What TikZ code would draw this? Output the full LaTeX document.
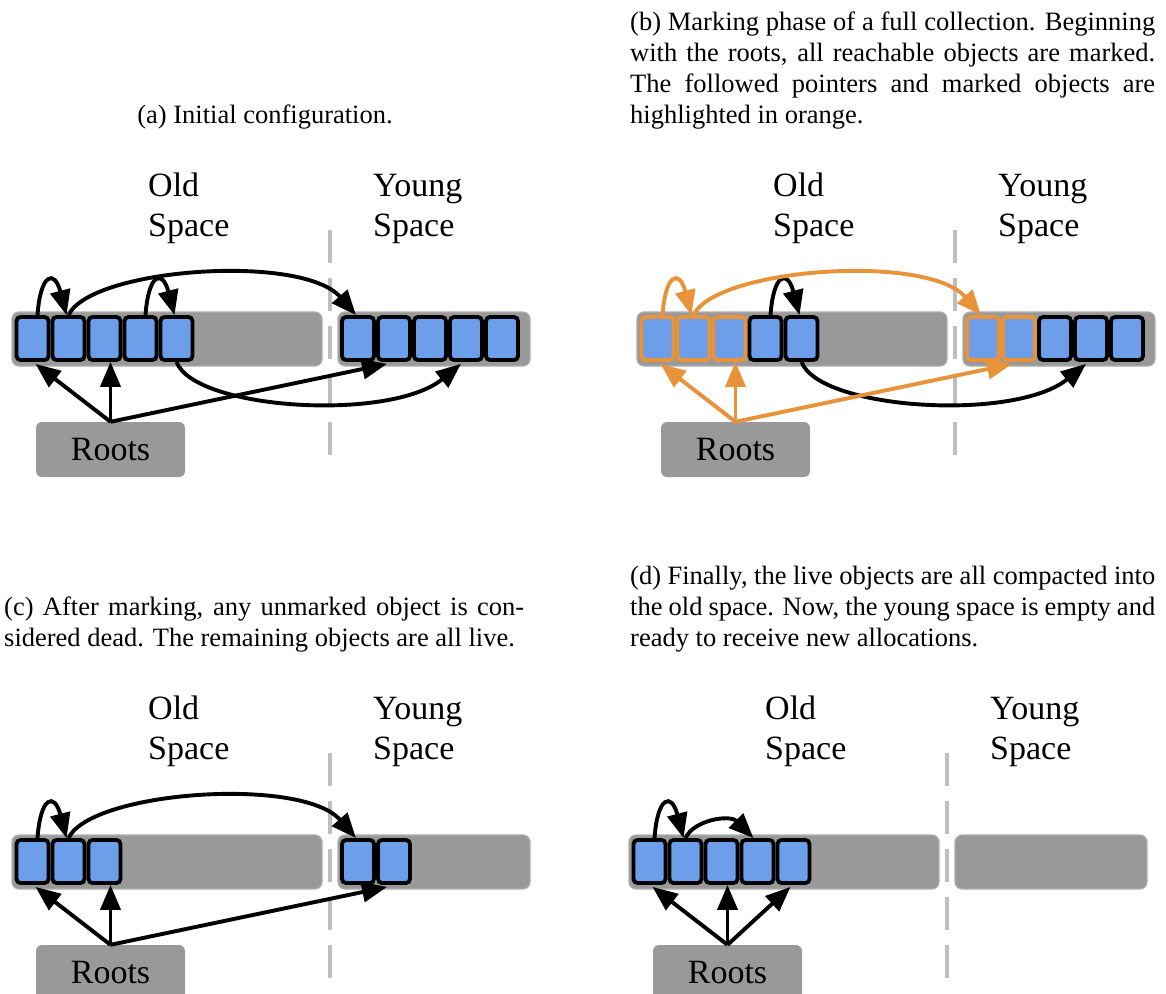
\documentclass[tikz,border=0pt]{standalone}
\usepackage{fontspec}
\setmainfont{Liberation Serif}
\newfontfamily\figserif{Liberation Serif}
\usetikzlibrary{arrows.meta,calc}

\definecolor{objblue}{RGB}{108,158,233}
\definecolor{spacegray}{RGB}{153,153,153}
\definecolor{dashgray}{RGB}{190,190,190}
\definecolor{markorange}{RGB}{232,146,58}

\tikzset{
  spacebar/.style={fill=spacegray, draw=spacegray!80!white, line width=1.2pt,
    rounded corners=7pt, inner sep=0pt},
  cell/.style={draw=black, fill=objblue, line width=3.8pt, rounded corners=4pt,
    minimum width=32pt, minimum height=43pt, inner sep=0pt},
  mcell/.style={cell, draw=markorange},
  ptr/.style={line width=3.9pt, -{Triangle[length=25pt,width=20pt]}},
  mptr/.style={ptr, draw=markorange, color=markorange},
  divider/.style={draw=dashgray, line width=3.5pt, dash pattern=on 33pt off 15pt},
  lbl/.style={font=\figserif\fontsize{34}{41}\selectfont, inner sep=0pt, anchor=base west},
  captext/.style={font=\figserif\fontsize{26.5}{31}\selectfont, inner sep=0pt, anchor=base west},
  rootbox/.style={fill=spacegray, rounded corners=6pt, minimum width=149pt,
    minimum height=55pt, inner sep=0pt, font=\figserif\fontsize{34}{41}\selectfont},
}

% labels, the two spaces, the divider and the root set of one panel
\newcommand\gcframe[1]{%
  \node[lbl] (#1lo1) at (148,196) {Old};
  \node[lbl] (#1lo2) at (148,236) {Space};
  \node[lbl] (#1ly1) at (373,196) {Young};
  \node[lbl] (#1ly2) at (373,236) {Space};
  \coordinate (#1dtop) at (330,230);
  \coordinate (#1dbot) at (330,456);
  \draw[divider] (#1dtop) -- (#1dbot);
  \node[spacebar, minimum width=310pt, minimum height=54pt] (#1old) at (167,339) {};
  \node[spacebar, minimum width=192pt, minimum height=54pt] (#1young) at (434,339) {};
  \node[rootbox] (#1roots) at (110.5,449.5) {Roots};
}
% object #2 of the old space / young space of panel #1, style #3
\newcommand\oldobj[3]{\node[#3] (#1c#2) at ({32.5+36*(#2-1)},338.5) {};}
\newcommand\youngobj[3]{\node[#3] (#1y#2) at ({358+36*(#2-1)},338.5) {};}

% pointer shapes
\newcommand\shortloop[3]{% #1 style, from #2 to #3 (neighbours)
  \draw[#1] ($(#2.north)+(5,0)$) .. controls ($(#2.north)+(8,-42)$)
    and ($(#3.north)+(-14,-46)$) .. ($(#3.north)+(-2,0)$);}
\newcommand\farjump[3]{% #1 style, old object #2 to young object #3
  \draw[#1] (#2.north) .. controls ($(#2.north)+(22,-47)$)
    and ($(#3.north)+(-56,-62)$) .. ($(#3.north)+(-2,0)$);}
\newcommand\underjump[3]{% #1 style, old object #2 to young object #3, below
  \draw[#1] (#2.south) .. controls ($(#2.south)+(18,48)$)
    and ($(#3.south)+(-76,60)$) .. ($(#3.south)+(-5,2)$);}

\begin{document}
\begin{tikzpicture}[x=1pt, y=-1pt]
\useasboundingbox (0,0) rectangle (1166,993);

% ---------------- captions ----------------
\node[captext, anchor=base] (capa) at (265,123) {(a) Initial configuration.};

\node[captext] (capb1) at (630,30) {\makebox[525pt][s]{(b) Marking phase of a full collection. Beginning}};
\node[captext] (capb2) at (630,61) {\makebox[525pt][s]{with the roots, all reachable objects are marked.}};
\node[captext] (capb3) at (630,92) {\makebox[525pt][s]{The followed pointers and marked objects are}};
\node[captext] (capb4) at (630,123) {highlighted in orange.};

\node[captext] (capc1) at (4,615) {\makebox[520pt][s]{(c) After marking, any unmarked object is con-}};
\node[captext] (capc2) at (4,646) {sidered dead. The remaining objects are all live.};

\node[captext] (capd1) at (630,584) {\makebox[525pt][s]{(d) Finally, the live objects are all compacted into}};
\node[captext] (capd2) at (630,615) {\makebox[525pt][s]{the old space. Now, the young space is empty and}};
\node[captext] (capd3) at (630,646) {ready to receive new allocations.};

% ---------------- (a) initial configuration ----------------
\begin{scope}
  \gcframe{a}
  \foreach \i in {1,...,5} {\oldobj{a}{\i}{cell}}
  \foreach \i in {1,...,5} {\youngobj{a}{\i}{cell}}
  \shortloop{ptr}{ac1}{ac2}
  \shortloop{ptr}{ac4}{ac5}
  \farjump{ptr}{ac2}{ay1}
  \underjump{ptr}{ac5}{ay4}
  \draw[ptr] (aroots.north) -- ($(ac1.south)+(3,2)$);
  \draw[ptr] (aroots.north) -- (aroots.north |- ac3.south);
  \draw[ptr] (aroots.north) -- ($(ay2.south)+(-7,2)$);
\end{scope}

% ---------------- (b) marking ----------------
\begin{scope}[shift={(625,0)}]
  \gcframe{b}
  \foreach \i in {1,2,3} {\oldobj{b}{\i}{mcell}}
  \foreach \i in {4,5} {\oldobj{b}{\i}{cell}}
  \foreach \i in {1,2} {\youngobj{b}{\i}{mcell}}
  \foreach \i in {3,4,5} {\youngobj{b}{\i}{cell}}
  \shortloop{ptr}{bc4}{bc5}
  \underjump{ptr}{bc5}{by4}
  \shortloop{mptr}{bc1}{bc2}
  \farjump{mptr}{bc2}{by1}
  \draw[mptr] (broots.north) -- ($(bc1.south)+(3,2)$);
  \draw[mptr] (broots.north) -- (broots.north |- bc3.south);
  \draw[mptr] (broots.north) -- ($(by2.south)+(-7,2)$);
\end{scope}

% ---------------- (c) dead objects removed ----------------
\begin{scope}[shift={(0,523)}]
  \gcframe{c}
  \foreach \i in {1,2,3} {\oldobj{c}{\i}{cell}}
  \foreach \i in {1,2} {\youngobj{c}{\i}{cell}}
  \shortloop{ptr}{cc1}{cc2}
  \farjump{ptr}{cc2}{cy1}
  \draw[ptr] (croots.north) -- ($(cc1.south)+(3,2)$);
  \draw[ptr] (croots.north) -- (croots.north |- cc3.south);
  \draw[ptr] (croots.north) -- ($(cy2.south)+(-7,2)$);
\end{scope}

% ---------------- (d) compacted ----------------
\begin{scope}[shift={(617,523)}]
  \gcframe{d}
  \foreach \i in {1,...,5} {\oldobj{d}{\i}{cell}}
  \shortloop{ptr}{dc1}{dc2}
  \draw[ptr] (dc2.north) .. controls ($(dc2.north)+(8,-18)$)
    and ($(dc4.north)+(-28,-24)$) .. ($(dc4.north)+(-4,0)$);
  \draw[ptr] (droots.north) -- ($(dc1.south)+(3,2)$);
  \draw[ptr] (droots.north) -- (droots.north |- dc3.south);
  \draw[ptr] (droots.north) -- ($(dc5.south)+(-3,2)$);
\end{scope}
\end{tikzpicture}
\end{document}
